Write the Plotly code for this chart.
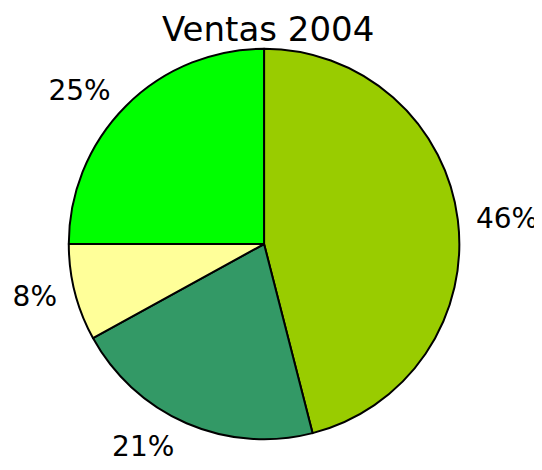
import plotly.graph_objects as go

labels = ["A", "B", "C", "D"]
values = [46, 21, 8, 25]
colors = ["#99CC00", "#339966", "#FFFF99", "#00FF00"]

W, H = 542, 470
# plotly draws the pie ~8px right / 7px down of the domain centre here
cx, cy = 255, 236
r_pie, r_lab = 196, 206


def dom(r):
    return dict(x=[(cx - r) / W, (cx + r) / W], y=[(H - cy - r) / H, (H - cy + r) / H])


fig = go.Figure()
# invisible pie, only for the percentage labels a bit further out
fig.add_trace(go.Pie(labels=labels, values=values, sort=False, direction="clockwise",
                     marker=dict(colors=["rgba(0,0,0,0)"] * 4, line=dict(width=0)),
                     textinfo="percent", textposition="outside",
                     textfont=dict(size=28, color="black", family="DejaVu Sans"),
                     domain=dom(r_lab), showlegend=False, hoverinfo="skip"))
fig.add_trace(go.Pie(labels=labels, values=values, sort=False, direction="clockwise",
                     marker=dict(colors=colors, line=dict(color="black", width=2)),
                     textinfo="none", domain=dom(r_pie), showlegend=False,
                     hoverinfo="label+percent"))

fig.update_layout(
    width=W, height=H,
    margin=dict(l=0, r=0, t=0, b=0),
    paper_bgcolor="white", plot_bgcolor="white",
    title=dict(text="Ventas 2004", x=0.48, xanchor="center", y=0.955, yanchor="middle",
               font=dict(size=34, color="black", family="DejaVu Sans")),
)

fig.write_html("out.html")
